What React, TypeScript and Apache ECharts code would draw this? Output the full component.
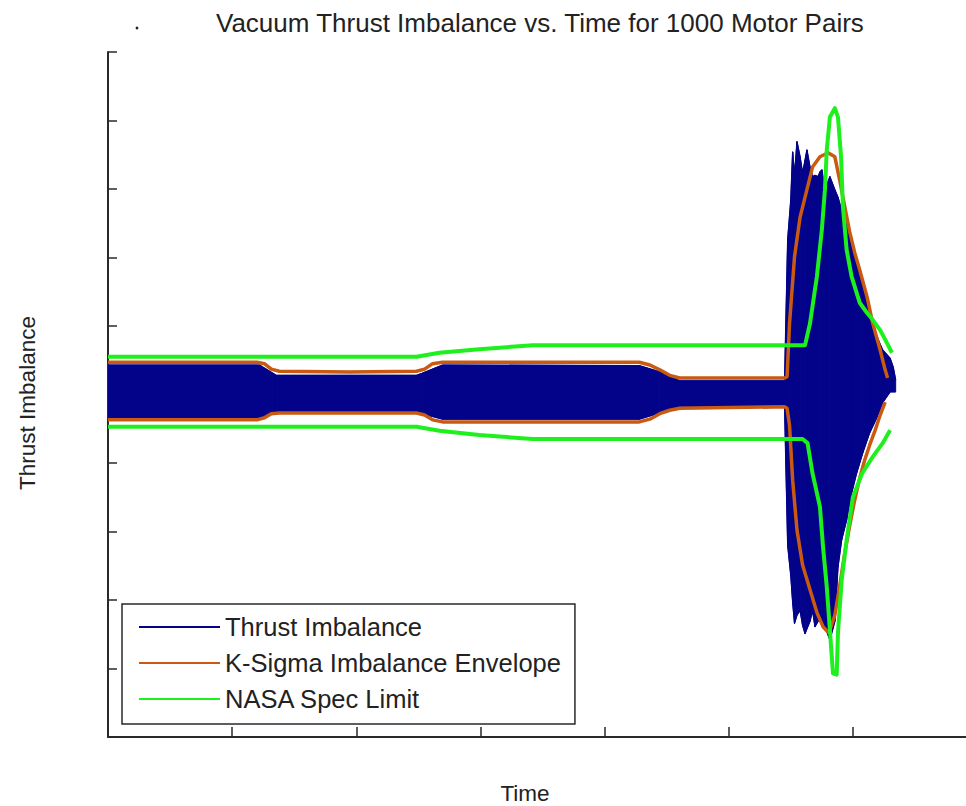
import React, { useEffect, useRef } from "react";
import * as echarts from "echarts";

// ---------- data (time in s, imbalance in arbitrary units) ----------
const TITLE = "Vacuum Thrust Imbalance vs. Time for 1000 Motor Pairs";
const X_LABEL = "Time";
const Y_LABEL = "Thrust Imbalance";
const LEGEND_NAMES = ["Thrust Imbalance", "K-Sigma Imbalance Envelope", "NASA Spec Limit"];

// Thrust imbalance band of the 1000 pairs (upper / lower envelope of the traces)
const blueTime = [0, 24.4, 27.1, 49.7, 50.6, 53.9, 85.6, 88.9, 92.1, 109.0, 109.5, 110.0, 110.3, 110.6, 111.0, 111.5, 111.9, 112.3, 112.6, 113.1, 113.5, 113.9, 114.4, 114.7, 115.0, 115.5, 116.3, 117.1, 117.6, 118.2, 119.0, 119.8, 120.6, 121.6, 122.7, 123.9, 124.8, 126.0, 126.5, 126.9];
const blueUpper = [0.43, 0.43, 0.28, 0.28, 0.31, 0.43, 0.42, 0.33, 0.2, 0.2, 2.26, 2.84, 3.54, 3.2, 3.69, 3.47, 3.23, 3.42, 3.57, 3.32, 3.18, 3.2, 3.18, 3.25, 3.28, 2.99, 3.18, 2.99, 2.88, 2.69, 2.5, 2.26, 1.96, 1.63, 1.19, 0.84, 0.65, 0.53, 0.4, 0.21];
const blueLower = [-0.34, -0.34, -0.26, -0.26, -0.28, -0.36, -0.36, -0.27, -0.17, -0.17, -2.2, -2.64, -3.03, -3.34, -3.22, -3.15, -3.37, -3.49, -3.42, -3.31, -3.15, -3.39, -3.31, -3.2, -3.31, -3.39, -3.58, -3.31, -2.52, -2.12, -1.83, -1.44, -1.15, -0.85, -0.56, -0.33, -0.12, 0.04, 0.04, 0.04];

// K-sigma envelope
const kTimeUpper = [0, 24.0, 25.2, 26.3, 27.6, 38.9, 49.7, 51.0, 52.3, 53.9, 85.6, 87.3, 88.9, 90.5, 92.1, 109.0, 109.4, 109.8, 110.6, 111.5, 112.6, 113.5, 114.7, 116.0, 117.1, 117.9, 118.7, 119.5, 120.3, 121.1, 122.3, 123.2, 124.4, 125.2, 125.6];
const kUpper = [0.47, 0.47, 0.45, 0.37, 0.34, 0.33, 0.34, 0.37, 0.45, 0.47, 0.47, 0.43, 0.36, 0.28, 0.24, 0.24, 0.26, 1.04, 2.01, 2.59, 2.99, 3.32, 3.47, 3.53, 3.47, 3.12, 2.74, 2.37, 2.07, 1.82, 1.42, 1.04, 0.65, 0.36, 0.24];
const kTimeLower = [0, 24.0, 25.2, 26.3, 27.6, 49.7, 51.0, 52.3, 53.9, 85.6, 87.3, 88.9, 90.5, 92.1, 109.0, 109.4, 109.8, 110.3, 111.0, 111.9, 113.1, 114.2, 115.2, 116.0, 116.3, 117.1, 117.9, 118.7, 119.5, 120.3, 121.1, 121.9, 122.7, 123.6, 124.4, 125.2];
const kLower = [-0.37, -0.37, -0.34, -0.28, -0.27, -0.27, -0.3, -0.37, -0.4, -0.4, -0.36, -0.28, -0.23, -0.2, -0.18, -0.2, -0.45, -1.25, -1.98, -2.49, -2.85, -3.18, -3.39, -3.47, -3.44, -3.22, -2.78, -2.31, -1.91, -1.54, -1.22, -0.96, -0.74, -0.52, -0.3, -0.11];

// NASA spec limit
const specTimeUpper = [0, 49.7, 53.4, 59.8, 68.4, 112.3, 113.1, 114.2, 115.0, 115.5, 115.8, 116.3, 117.1, 117.6, 118.1, 118.4, 119.0, 119.8, 121.1, 122.3, 123.2, 124.4, 125.5, 126.3];
const specUpper = [0.55, 0.55, 0.61, 0.66, 0.72, 0.72, 1.04, 1.72, 2.4, 2.99, 3.57, 4.05, 4.18, 4.05, 3.47, 2.74, 2.11, 1.72, 1.34, 1.19, 1.09, 0.94, 0.75, 0.61];
const specTimeLower = [0, 49.7, 53.4, 59.8, 68.4, 111.9, 112.7, 113.5, 114.7, 115.2, 115.8, 116.3, 116.8, 117.4, 117.6, 118.2, 119.0, 120.0, 121.5, 123.2, 124.8, 126.0];
const specLower = [-0.47, -0.47, -0.53, -0.59, -0.65, -0.65, -0.71, -1.15, -1.64, -2.23, -2.81, -3.44, -4.07, -4.09, -3.48, -2.71, -2.12, -1.5, -1.15, -0.91, -0.71, -0.52];

// axis ranges / ticks
const X_MIN = 0;
const X_MAX = 140;
const X_STEP = 20;
const Y_MIN = -5;
const Y_MAX = 5;
const Y_STEP = 1;

// ---------- styles ----------
const FONT = "'Liberation Sans', Arial, Helvetica, sans-serif";
const NAVY = "#03038a";
const ORANGE = "#c95a12";
const GREEN = "#1ef01e";
const AXIS = "#2a2a2a";
const TEXT = "#222222";

const pairs = (xs: number[], ys: number[]) => xs.map((x, i) => [x, ys[i]]);

export default function App() {
  const ref = useRef<HTMLDivElement>(null);

  useEffect(() => {
    if (!ref.current) return;
    const chart = echarts.init(ref.current, null, { renderer: "svg" });
    const bandData = blueTime.map((t, i) => [t, blueUpper[i], blueLower[i]]);

    const line = (name: string, data: number[][], color: string, width: number, z: number) => ({
      name,
      type: "line",
      data,
      symbol: "none",
      smooth: false,
      z,
      lineStyle: { color, width, join: "round" },
      itemStyle: { color },
      emphasis: { disabled: true },
    });

    const option: any = {
      animation: false,
      backgroundColor: "#ffffff",
      title: {
        text: TITLE,
        left: 211,
        top: 5,
        textStyle: { fontFamily: FONT, fontSize: 26, fontWeight: "normal", color: TEXT },
      },
      legend: {
        data: LEGEND_NAMES,
        orient: "vertical",
        left: 122,
        top: 604,
        itemWidth: 81,
        itemHeight: 14,
        itemGap: 10,
        padding: [10, 14, 12, 16],
        borderColor: AXIS,
        borderWidth: 1.5,
        backgroundColor: "#ffffff",
        selectedMode: false,
        itemStyle: { opacity: 0 },
        textStyle: { fontFamily: FONT, fontSize: 25.5, color: TEXT },
      },
      // the axes box runs past the right edge of the picture, as in the original
      grid: {
        left: 108,
        top: 52,
        width: 869,
        height: 685,
        containLabel: false,
        outerBoundsMode: "none",
      },
      xAxis: {
        type: "value",
        min: X_MIN,
        max: X_MAX,
        interval: X_STEP,
        axisLine: { onZero: false, lineStyle: { color: AXIS, width: 2 } },
        axisTick: { inside: true, length: 10, lineStyle: { color: AXIS, width: 1.5 } },
        axisLabel: { show: false },
        splitLine: { show: false },
      },
      yAxis: {
        type: "value",
        min: Y_MIN,
        max: Y_MAX,
        interval: Y_STEP,
        axisLine: { show: true, onZero: false, lineStyle: { color: AXIS, width: 2 } },
        axisTick: { show: true, inside: true, length: 9, lineStyle: { color: AXIS, width: 1.5 } },
        axisLabel: { show: false },
        splitLine: { show: false },
      },
      series: [
        line("Thrust Imbalance", pairs(blueTime, blueUpper), NAVY, 1.3, 2),
        line("Thrust Imbalance", pairs(blueTime, blueLower), NAVY, 1.3, 2),
        {
          name: "Thrust Imbalance",
          type: "custom",
          z: 2,
          data: bandData,
          encode: { x: 0, y: [1, 2] },
          clip: true,
          renderItem: (params: any, api: any) => {
            const i = params.dataIndexInside;
            if (i >= params.dataInsideLength - 1) return null;
            const a = api.coord([api.value(0, i), api.value(1, i)]);
            const b = api.coord([api.value(0, i + 1), api.value(1, i + 1)]);
            const c = api.coord([api.value(0, i + 1), api.value(2, i + 1)]);
            const d = api.coord([api.value(0, i), api.value(2, i)]);
            return {
              type: "polygon",
              shape: { points: [a, b, c, d] },
              style: { fill: NAVY, stroke: NAVY, lineWidth: 1 },
            };
          },
        },
        line("K-Sigma Imbalance Envelope", pairs(kTimeUpper, kUpper), ORANGE, 3.5, 3),
        line("K-Sigma Imbalance Envelope", pairs(kTimeLower, kLower), ORANGE, 3.5, 3),
        line("NASA Spec Limit", pairs(specTimeUpper, specUpper), GREEN, 4, 4),
        line("NASA Spec Limit", pairs(specTimeLower, specLower), GREEN, 4, 4),
      ],
      graphic: [
        {
          type: "text",
          x: 27,
          y: 403,
          rotation: Math.PI / 2,
          style: { text: Y_LABEL, fontFamily: FONT, fontSize: 22.5, fill: TEXT, align: "center", verticalAlign: "middle" },
        },
        {
          type: "text",
          x: 525,
          y: 793,
          style: { text: X_LABEL, fontFamily: FONT, fontSize: 22.5, fill: TEXT, align: "center", verticalAlign: "middle" },
        },
        { type: "circle", shape: { cx: 137, cy: 28, r: 1.4 }, style: { fill: TEXT } },
      ],
    };

    chart.setOption(option);
    return () => chart.dispose();
  }, []);

  return (
    <div
      ref={ref}
      style={{ position: "absolute", left: 0, top: 0, width: 966, height: 806, background: "#ffffff" }}
    />
  );
}
